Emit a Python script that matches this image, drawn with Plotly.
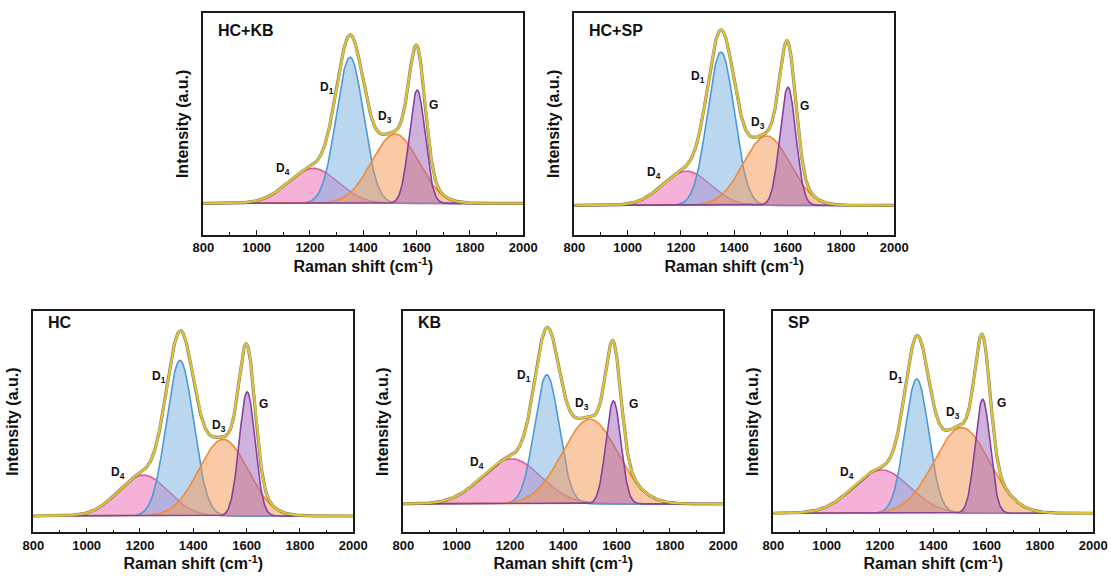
import numpy as np
import plotly.graph_objects as go

# Raman spectra deconvolution: four bands per sample (D4, D1, D3, G)
samples = ["HC+KB", "HC+SP", "HC", "KB", "SP"]
band_names = ["D<sub>4</sub>", "D<sub>1</sub>", "D<sub>3</sub>", "G"]

# band centres (cm-1), order D4, D1, D3, G
hc_kb_center = [1212, 1350, 1519, 1602]
hc_sp_center = [1221, 1350, 1521, 1601]
hc_center = [1212, 1350, 1512, 1602]
kb_center = [1206, 1338, 1500, 1588]
sp_center = [1206, 1338, 1506, 1585]

# band heights (a.u.)
hc_kb_height = [0.206, 0.860, 0.408, 0.667]
hc_sp_height = [0.200, 0.895, 0.406, 0.690]
hc_height = [0.241, 0.915, 0.451, 0.730]
kb_height = [0.265, 0.760, 0.498, 0.606]
sp_height = [0.255, 0.790, 0.504, 0.671]

# band widths, FWHM (cm-1)
hc_kb_fwhm = [220, 120, 205, 70]
hc_sp_fwhm = [210, 118, 205, 70]
hc_fwhm = [220, 120, 215, 70]
kb_fwhm = [260, 108, 245, 66]
sp_fwhm = [250, 105, 245, 66]

params = {
    "HC+KB": (hc_kb_center, hc_kb_height, hc_kb_fwhm),
    "HC+SP": (hc_sp_center, hc_sp_height, hc_sp_fwhm),
    "HC": (hc_center, hc_height, hc_fwhm),
    "KB": (kb_center, kb_height, kb_fwhm),
    "SP": (sp_center, sp_height, sp_fwhm),
}

shift = np.arange(800, 2001, 2.0)


def gauss(x, c, h, w):
    s = w / (2 * np.sqrt(2 * np.log(2)))
    return h * np.exp(-0.5 * ((x - c) / s) ** 2)


# ---- styling ----
W, H = 1111, 581
FONT = "Arial, Liberation Sans, sans-serif"
line_cols = ["#e4579f", "#4b9ad6", "#f28a35", "#8a3e9e"]
fill_cols = ["rgba(236,100,175,0.50)", "rgba(120,175,225,0.50)",
             "rgba(245,150,80,0.50)", "rgba(160,100,190,0.50)"]
fit_col = "#dcc236"
raw_col = "rgba(80,80,80,0.75)"

# frames in pixel coordinates: (left, right, top, bottom)
frames = {
    "HC+KB": (203.3, 523.3, 12.7, 235.0),
    "HC+SP": (574.3, 894.3, 12.7, 235.0),
    "HC": (33.3, 353.3, 311.0, 532.3),
    "KB": (403.3, 723.3, 311.0, 532.3),
    "SP": (773.3, 1093.3, 311.0, 532.3),
}
yranges = {
    "HC+KB": [-0.186, 1.122],
    "HC+SP": [-0.173, 1.125],
    "HC": [-0.096, 1.206],
    "KB": [-0.167, 1.135],
    "SP": [-0.112, 1.190],
}
# vertical position of the sample name inside each frame (domain fraction)
name_y = {"HC+KB": 0.920, "HC+SP": 0.920, "HC": 0.948, "KB": 0.948, "SP": 0.948}
# band-label anchor points (data coordinates), order D4, D1, D3, G
label_pos = {
    "HC+KB": [(1100, 0.20), (1262, 0.68), (1481, 0.51), (1665, 0.58)],
    "HC+SP": [(1100, 0.19), (1265, 0.75), (1490, 0.48), (1665, 0.58)],
    "HC": [(1119, 0.25), (1272, 0.82), (1497, 0.53), (1662, 0.66)],
    "KB": [(1077, 0.24), (1254, 0.75), (1469, 0.59), (1662, 0.59)],
    "SP": [(1075, 0.235), (1260, 0.80), (1475, 0.59), (1656, 0.65)],
}

fig = go.Figure()
annotations = []

for i, name in enumerate(samples):
    k = "" if i == 0 else str(i + 1)
    xa, ya = "x" + k, "y" + k
    cen, hei, fw = params[name]
    bands = [gauss(shift, c, h, w) for c, h, w in zip(cen, hei, fw)]
    total = np.sum(bands, axis=0)

    for j, b in enumerate(bands):
        fig.add_trace(go.Scatter(
            x=shift, y=b, mode="lines", xaxis=xa, yaxis=ya,
            line=dict(color=line_cols[j], width=1.6),
            fill="tozeroy", fillcolor=fill_cols[j],
            showlegend=False, hoverinfo="skip"))
    # measured spectrum
    fig.add_trace(go.Scatter(
        x=shift, y=total, mode="lines", xaxis=xa, yaxis=ya,
        line=dict(color=raw_col, width=3.2),
        showlegend=False, hoverinfo="skip"))
    # cumulative fit
    fig.add_trace(go.Scatter(
        x=shift, y=total, mode="lines", xaxis=xa, yaxis=ya,
        line=dict(color=fit_col, width=2.3),
        showlegend=False, hoverinfo="skip"))

    l, r, t, b = frames[name]
    axis_common = dict(showline=True, linecolor="#1a1a1a", linewidth=1.6,
                       mirror=True, showgrid=False, zeroline=False,
                       automargin=False)
    fig.update_layout(**{
        "xaxis" + k: dict(
            domain=[l / W, r / W], anchor=ya, range=[800, 2000],
            tickmode="array", tickvals=list(range(800, 2001, 200)),
            ticks="inside", ticklen=5, tickwidth=1.3, tickcolor="#1a1a1a",
            minor=dict(ticks="inside", dtick=100, ticklen=3, tickwidth=1.2,
                       tickcolor="#1a1a1a"),
            tickfont=dict(family=FONT, size=13, color="#111", weight="bold"),
            title=dict(text="Raman shift (cm<sup>-1</sup>)",
                       font=dict(family=FONT, size=16, color="#111", weight="bold"),
                       standoff=6),
            **axis_common),
        "yaxis" + k: dict(
            domain=[1 - b / H, 1 - t / H], anchor=xa, range=yranges[name],
            showticklabels=False, ticks="",
            title=dict(text="Intensity (a.u.)",
                       font=dict(family=FONT, size=16, color="#111", weight="bold"),
                       standoff=9),
            **axis_common),
    })

    annotations.append(dict(
        text=name, xref=xa + " domain", yref=ya + " domain",
        x=0.04, y=name_y[name], xanchor="left", yanchor="middle",
        showarrow=False,
        font=dict(family=FONT, size=16, color="#111", weight="bold")))
    for j, (lx, ly) in enumerate(label_pos[name]):
        annotations.append(dict(
            text=band_names[j], x=lx, y=ly, xref=xa, yref=ya,
            showarrow=False, xanchor="center", yanchor="middle",
            font=dict(family=FONT, size=12, color="#111", weight="bold")))

fig.update_layout(
    width=W, height=H, margin=dict(l=0, r=0, t=0, b=0),
    paper_bgcolor="white", plot_bgcolor="white",
    annotations=annotations,
)

fig.write_html("out.html")
